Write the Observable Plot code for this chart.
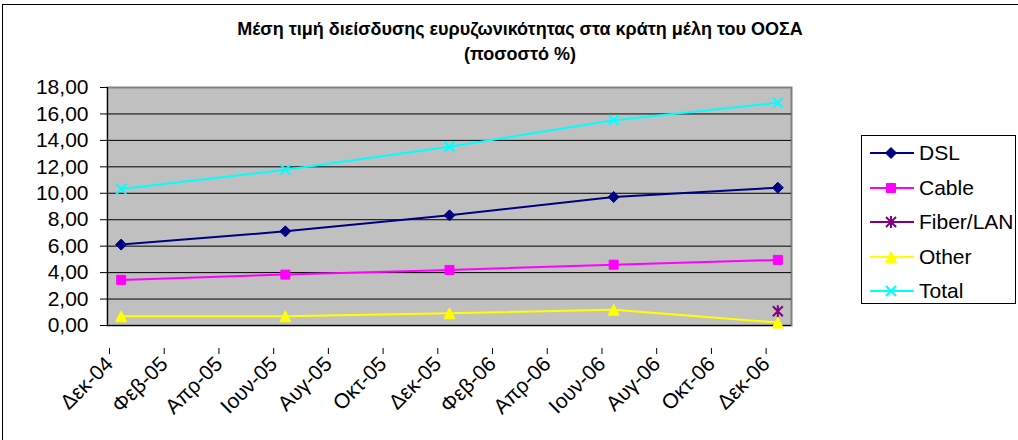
<!DOCTYPE html>
<html>
<head>
<meta charset="utf-8">
<script src="https://cdn.jsdelivr.net/npm/d3@7"></script>
<script src="https://cdn.jsdelivr.net/npm/@observablehq/plot@0.6"></script>
<style>
  body { margin: 0; background: #fff; font-family: Arial, "Liberation Sans", sans-serif; }
  #wrap { position: relative; width: 1018px; height: 440px; overflow: hidden; }
  #border { position: absolute; left: 2px; top: 4px; width: 1030px; height: 450px; border-left: 1px solid #000; border-top: 1px solid #000; }
  #title { position: absolute; left: 0; width: 1040px; top: 17px; text-align: center; font-weight: bold; font-size: 18px; line-height: 25px; color: #000; }
  #chart { position: absolute; left: 0; top: 0; }
  #legend { position: absolute; left: 861px; top: 135px; width: 155px; height: 169px; border: 1px solid #000; box-sizing: border-box; background: #fff; }
  .item { position: absolute; left: 0; height: 30px; width: 155px; }
  .item svg { position: absolute; left: 6px; top: 0; }
  .item span { position: absolute; left: 57px; top: 2px; font-size: 21px; line-height: 26px; color: #000; white-space: nowrap; }
</style>
</head>
<body>
<div id="wrap">
  <div id="chart"></div>
  <div id="border"></div>
  <div id="title">Μέση τιμή διείσδυσης ευρυζωνικότητας στα κράτη μέλη του ΟΟΣΑ<br>(ποσοστό %)</div>
  <div id="legend"></div>
</div>
<script>
// ---- data ----
const months = ["2004-12", "2005-06", "2005-12", "2006-06", "2006-12"];
const dsl    = [6.12, 7.12, 8.33, 9.72, 10.42];
const cable  = [3.45, 3.85, 4.20, 4.60, 4.96];
const fiber  = [null, null, null, null, 1.08];
const other  = [0.70, 0.70, 0.92, 1.19, 0.22];
const total  = [10.32, 11.78, 13.52, 15.53, 16.84];
const seriesNames  = ["DSL", "Cable", "Fiber/LAN", "Other", "Total"];
const seriesColors = ["#000080", "#FF00FF", "#800080", "#FFFF00", "#00FFFF"];
const tickLabels = ["Δεκ-04", "Φεβ-05", "Απρ-05", "Ιουν-05", "Αυγ-05", "Οκτ-05", "Δεκ-05",
                    "Φεβ-06", "Απρ-06", "Ιουν-06", "Αυγ-06", "Οκτ-06", "Δεκ-06"];
const yTicks = [0, 2, 4, 6, 8, 10, 12, 14, 16, 18];

// ---- helpers ----
const seriesValues = [dsl, cable, fiber, other, total];
function monthIndex(m) { const [y, mo] = m.split("-").map(Number); return (y - 2004) * 12 + (mo - 12); }
const rows = [];
seriesNames.forEach((s, k) => months.forEach((m, i) => {
  const v = seriesValues[k][i];
  if (v != null) rows.push({series: s, x: monthIndex(m) + 0.5, y: v});
}));
const totalMonths = monthIndex(months[months.length - 1]) + 1;
const xTickPos = tickLabels.map((_, i) => i * 2);

const symDiamond = {draw(c, size) { const r = 5.5; c.moveTo(0, -r); c.lineTo(r, 0); c.lineTo(0, r); c.lineTo(-r, 0); c.closePath(); }};
const symSquare  = {draw(c, size) { const r = 4.5; c.rect(-r, -r, 2 * r, 2 * r); }};
const symTri     = {draw(c, size) { const r = 5.5; c.moveTo(0, -r); c.lineTo(r, r); c.lineTo(-r, r); c.closePath(); }};
const symTimes   = {draw(c, size) { const r = 5; c.moveTo(-r, -r); c.lineTo(r, r); c.moveTo(r, -r); c.lineTo(-r, r); }};
const symStar    = {draw(c, size) { const r = 5; c.moveTo(-r, -r); c.lineTo(r, r); c.moveTo(r, -r); c.lineTo(-r, r); c.moveTo(0, -r - 1); c.lineTo(0, r + 1); }};
const symbols = [symDiamond, symSquare, symStar, symTri, symTimes];
const filled  = [true, true, false, true, false];

const fmt = d => d.toFixed(2).replace(".", ",");

const marks = [
  Plot.frame({fill: "#C0C0C0", stroke: "#808080", strokeWidth: 2}),
  Plot.ruleY(yTicks.filter(d => d > 0 && d < 18), {stroke: "#000", strokeWidth: 1}),
  Plot.ruleX([0], {stroke: "#000", strokeWidth: 1}),
  Plot.ruleY([0], {stroke: "#000", strokeWidth: 1}),
  Plot.axisY(yTicks, {tickFormat: fmt, tickSize: 7, tickPadding: 12, fontSize: 21, label: null, stroke: "#000"}),
  Plot.axisX(xTickPos, {tickFormat: d => tickLabels[d / 2], tickRotate: -45, tickSize: 6, tickPadding: 6, fontSize: 21, label: null, dy: 23, dx: 2}),
];
seriesNames.forEach((s, k) => {
  const data = rows.filter(r => r.series === s);
  marks.push(Plot.line(data, {x: "x", y: "y", stroke: seriesColors[k], strokeWidth: 2}));
});
seriesNames.forEach((s, k) => {
  const data = rows.filter(r => r.series === s);
  marks.push(Plot.dot(data, {x: "x", y: "y", symbol: symbols[k], r: 5,
    fill: filled[k] ? seriesColors[k] : "none", stroke: seriesColors[k], strokeWidth: filled[k] ? 1 : 2}));
});

const chart = Plot.plot({
  width: 1018, height: 440,
  marginLeft: 107, marginRight: 227, marginTop: 87, marginBottom: 115,
  x: {type: "linear", domain: [0, totalMonths], axis: null},
  y: {domain: [0, 18], axis: null},
  style: {fontFamily: "Arial, 'Liberation Sans', sans-serif", fontSize: "21px", color: "#000", background: "transparent"},
  marks
});
document.getElementById("chart").appendChild(chart);

// ---- legend ----
const legend = document.getElementById("legend");
const itemTops = [18, 52.5, 87, 121.5, 156];
seriesNames.forEach((s, k) => {
  const div = document.createElement("div");
  div.className = "item";
  div.style.top = (itemTops[k] - 15 - 1) + "px";
  const svg = d3.create("svg").attr("width", 48).attr("height", 30);
  svg.append("line").attr("x1", 2).attr("x2", 46).attr("y1", 15).attr("y2", 15)
    .attr("stroke", seriesColors[k]).attr("stroke-width", 2);
  const path = d3.path();
  symbols[k].draw(path, 0);
  svg.append("path").attr("d", path.toString()).attr("transform", "translate(23,15)")
    .attr("fill", filled[k] ? seriesColors[k] : "none").attr("stroke", seriesColors[k])
    .attr("stroke-width", filled[k] ? 1 : 2);
  div.appendChild(svg.node());
  const span = document.createElement("span");
  span.textContent = s;
  div.appendChild(span);
  legend.appendChild(div);
});
</script>
</body>
</html>
